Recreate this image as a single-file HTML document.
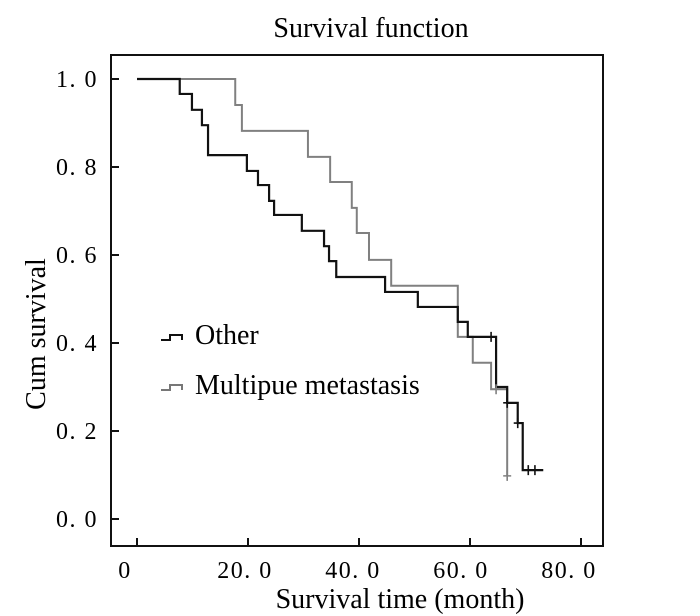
<!DOCTYPE html>
<html><head><meta charset="utf-8"><style>
body{margin:0;background:#fff}
svg{display:block;font-family:"Liberation Serif",serif}
</style></head><body>
<svg id="chart" width="700" height="616" viewBox="0 0 700 616">
<text x="371" y="37" font-size="28" text-anchor="middle">Survival function</text>
<rect x="111" y="55" width="492" height="491" fill="none" stroke="#111" stroke-width="2"/>
<g id="axes"></g>
<g id="series"></g>
<g>
<path d="M161 340H170V335H182V340" fill="none" stroke="#111" stroke-width="2"/>
<text x="195" y="344" font-size="28">Other</text>
<path d="M161 390H170V385H182V390" fill="none" stroke="#777" stroke-width="2"/>
<text x="195" y="394" font-size="28">Multipue metastasis</text>
</g>
<text transform="translate(45,334) rotate(-90)" font-size="28" text-anchor="middle">Cum survival</text>
<text x="400" y="608" font-size="28" text-anchor="middle">Survival time (month)</text>
</svg>
<script>
const xTicks=[0,20,40,60,80];
const xTickLabels=["0","20. 0","40. 0","60. 0","80. 0"];
const yTicks=[0,0.2,0.4,0.6,0.8,1.0];
const yTickLabels=["0. 0","0. 2","0. 4","0. 6","0. 8","1. 0"];
const otherTimes=[0,7.7,9.9,11.7,12.8,19.8,21.8,23.8,24.7,29.7,33.7,34.6,35.9,44.7,50.6,57.8,59.6,64.7,66.7,68.6,69.5];
const otherSurv=[1,0.966,0.930,0.895,0.827,0.791,0.759,0.723,0.691,0.655,0.620,0.586,0.550,0.516,0.482,0.448,0.414,0.300,0.264,0.218,0.111];
const otherEnd=73.2;
const otherCensorTimes=[63.8,66.7,68.6,70.5,71.7];
const otherCensorSurv=[0.414,0.264,0.218,0.111,0.111];
const multiTimes=[0,17.7,18.9,30.8,34.8,38.7,39.6,41.8,45.8,57.8,60.5,63.8,66.7];
const multiSurv=[1,0.941,0.882,0.823,0.766,0.707,0.650,0.589,0.530,0.414,0.355,0.295,0.098];
const multiEnd=66.7;
const multiCensorTimes=[64.7,66.7];
const multiCensorSurv=[0.295,0.098];

const NS="http://www.w3.org/2000/svg";
const X=t=>137+t*5.55;
const Y=s=>519-s*440;
const XL=t=>137+t*5.4;
function mk(tag,attrs,parent){const e=document.createElementNS(NS,tag);for(const k in attrs)e.setAttribute(k,attrs[k]);parent.appendChild(e);return e;}
const axes=document.getElementById('axes');
xTicks.forEach((v,i)=>{
  const l=mk('line',{x1:X(v),x2:X(v),y1:546,y2:538,stroke:'#111','stroke-width':2},axes);
  
  
  const t=mk('text',{x:(i===0?125:XL(v)),y:578,'font-size':24,'letter-spacing':1.5,'text-anchor':'middle'},axes);
  t.textContent=xTickLabels[i];
  
  
});
yTicks.forEach((v,i)=>{
  const l=mk('line',{x1:111,x2:119,y1:Y(v),y2:Y(v),stroke:'#111','stroke-width':2},axes);
  
  
  const t=mk('text',{x:98,y:Y(v)+8,'font-size':24,'letter-spacing':1.5,'text-anchor':'end'},axes);
  t.textContent=yTickLabels[i];
  
  
});
const series=document.getElementById('series');
function stepPath(ts,ss,end){
  let d='M'+X(ts[0])+' '+Y(ss[0]);
  for(let i=1;i<ts.length;i++){d+='H'+X(ts[i])+'V'+Y(ss[i]);}
  d+='H'+X(end);return d;
}
const pm=mk('path',{d:stepPath(multiTimes,multiSurv,multiEnd),fill:'none',stroke:'#808080','stroke-width':2},series);


const po=mk('path',{d:stepPath(otherTimes,otherSurv,otherEnd),fill:'none',stroke:'#111','stroke-width':2.2},series);


function censors(ts,ss,col,name){
  ts.forEach((t,i)=>{
    const p=mk('path',{d:'M'+(X(t)-4)+' '+Y(ss[i])+'h8M'+X(t)+' '+(Y(ss[i])-5)+'v10',stroke:col,'stroke-width':1.6,fill:'none'},series);
    
    
  });
}
censors(multiCensorTimes,multiCensorSurv,'#808080','multiple-censor-mark');
censors(otherCensorTimes,otherCensorSurv,'#111','other-censor-mark');
</script>
</body></html>
